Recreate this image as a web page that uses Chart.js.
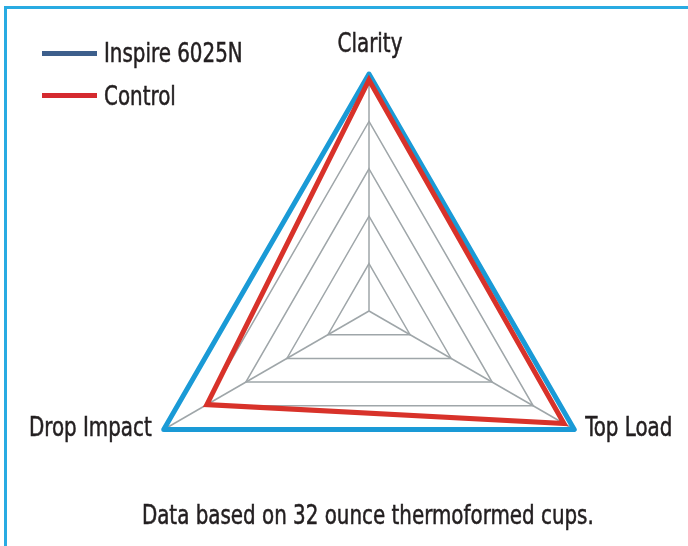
<!DOCTYPE html>
<html>
<head>
<meta charset="utf-8">
<script src="https://cdn.jsdelivr.net/npm/chart.js@4.4.0/dist/chart.umd.min.js"></script>
<style>
    html, body { margin: 0; padding: 0; background: #FFFFFF; }
    .chart_box { position: relative; width: 688px; height: 546px; overflow: hidden; }
    .frame { position: absolute; left: 4px; top: 6px; right: 0; bottom: 0; border-top: 3px solid #29ABE2; border-left: 3px solid #29ABE2; }
    #radar_chart { position: absolute; left: 0; top: 0; }
    .legend { position: absolute; left: 42px; top: 38px; }
    .legend_item { display: flex; align-items: center; height: 30px; margin-bottom: 12.5px; }
    .legend_line { width: 55px; height: 5px; margin-right: 7px; }
    .legend_item span, .caption span { display: inline-block; font-size: 26px; line-height: 30px; color: #231F20; white-space: nowrap; transform: scaleX(0.85); -webkit-text-stroke: 0.5px #231F20; }
    .legend_item span { transform-origin: left center; }
    .caption { position: absolute; left: 0; width: 735px; top: 500px; text-align: center; }
</style>
</head>
<body>
<div class="chart_box">
    <div class="frame"></div>
    <canvas id="radar_chart" width="688" height="560"></canvas>
    <div class="legend"></div>
    <div class="caption"><span>Data based on 32 ounce thermoformed cups.</span></div>
</div>
<script>
// chart data
const categories = ['Clarity', 'Top Load', 'Drop Impact'];
const seriesNames = ['Inspire 6025N', 'Control'];
const inspireValues = [100, 100, 100];
const controlValues = [97.5, 95, 79];
const tickValues = [0, 20, 40, 60, 80, 100];

const lineColors = ['#1A9AD6', '#D8322A'];
const legendColors = ['#3D5F8C', '#D52A2F'];
const textColor = '#231F20';
const gridColor = '#9FA6A9';
const textSqueeze = 0.85;

//pick a font that is really installed
const pickFont = (list) => {
    const ctx = document.createElement('canvas').getContext('2d');
    const probe = 'Inspire 6025N Clarity Drop Impact';
    ctx.font = '40px monospace';
    const base = ctx.measureText(probe).width;
    for (const name of list) {
        ctx.font = `40px "${name}", monospace`;
        if (ctx.measureText(probe).width !== base) return `"${name}"`;
    }
    return 'sans-serif';
};
const fontFamily = pickFont(['Liberation Sans Narrow', 'DejaVu Sans Condensed', 'Roboto Condensed', 'Liberation Sans']);
document.querySelectorAll('.legend, .caption').forEach(el => el.style.fontFamily = fontFamily);
//

//legend
const legendBox = document.querySelector('.legend');
seriesNames.forEach((name, i) => {
    const item = document.createElement('div');
    item.className = 'legend_item';
    item.innerHTML = `<div class="legend_line" style="background:${legendColors[i]}"></div><span>${name}</span>`;
    legendBox.appendChild(item);
});
//

//axis labels drawn next to the radar corners
const cornerLabels = {
    id: 'cornerLabels',
    afterDraw: (chart) => {
        const scale = chart.scales.r;
        const ctx = chart.ctx;
        categories.forEach((label, i) => {
            const corner = scale.getPointPosition(i, scale.drawingArea);
            const cos = Math.cos(scale.getIndexAngle(i) - Math.PI / 2);
            let x = corner.x + 1;
            let y = corner.y - 29;
            let align = 'center';
            if (cos > 0.01) {
                x = corner.x + 11;
                y = corner.y;
                align = 'left';
            } else if (cos < -0.01) {
                x = corner.x - 12;
                y = corner.y;
                align = 'right';
            }
            ctx.save();
            ctx.translate(x, y);
            ctx.scale(textSqueeze, 1);
            ctx.font = `26px ${fontFamily}`;
            ctx.fillStyle = textColor;
            ctx.strokeStyle = textColor;
            ctx.lineWidth = 0.5;
            ctx.textBaseline = 'middle';
            ctx.textAlign = align;
            ctx.fillText(label, 0, 0);
            ctx.strokeText(label, 0, 0);
            ctx.restore();
        });
    }
};
//

const radarChart = document.getElementById('radar_chart').getContext('2d');

new Chart(radarChart, {
    type: 'radar',
    data: {
        labels: categories,
        datasets: [{
            label: seriesNames[0],
            data: inspireValues,
            borderColor: lineColors[0],
            borderWidth: 5,
            borderJoinStyle: 'round',
            fill: false,
            pointRadius: 0,
            order: 1
        }, {
            label: seriesNames[1],
            data: controlValues,
            borderColor: lineColors[1],
            borderWidth: 5,
            borderJoinStyle: 'miter',
            fill: false,
            pointRadius: 0,
            order: 0
        }]
    },
    options: {
        responsive: false,
        animation: false,
        devicePixelRatio: 1,
        layout: {
            padding: { left: 50, right: 0, top: 74, bottom: 12 }
        },
        plugins: {
            legend: { display: false },
            tooltip: { enabled: false }
        },
        scales: {
            r: {
                min: tickValues[0],
                max: tickValues[tickValues.length - 1],
                ticks: {
                    display: false,
                    stepSize: tickValues[1] - tickValues[0]
                },
                grid: {
                    color: gridColor,
                    lineWidth: 1.5
                },
                angleLines: {
                    color: gridColor,
                    lineWidth: 1.5
                },
                pointLabels: { display: false }
            }
        }
    },
    plugins: [cornerLabels]
});
</script>
</body>
</html>
